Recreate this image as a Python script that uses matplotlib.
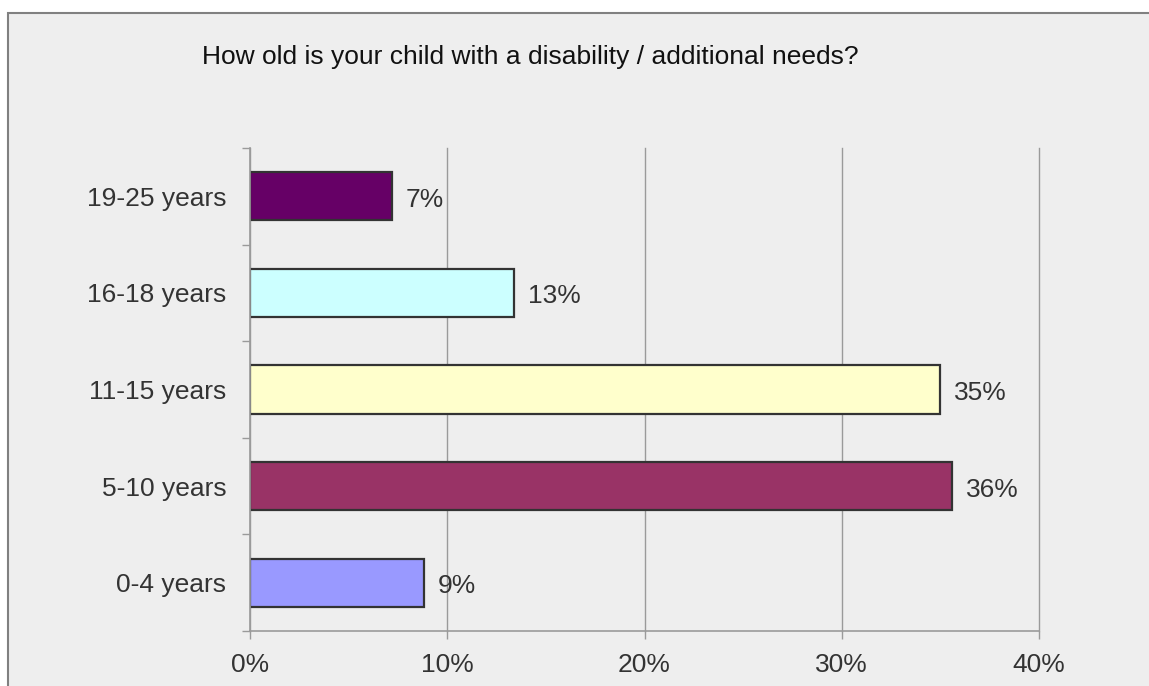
import matplotlib
matplotlib.use("Agg")
import matplotlib.pyplot as plt
from matplotlib.patches import Rectangle
from matplotlib.ticker import FixedLocator, FuncFormatter

# Survey responses: age group of the child (percentage of respondents)
categories = ["0-4 years", "5-10 years", "11-15 years", "16-18 years", "19-25 years"]
shares = [8.8, 35.6, 35.0, 13.4, 7.2]
bar_colors = ["#9999FF", "#993366", "#FFFFCC", "#CCFFFF", "#660066"]
x_ticks = [0, 10, 20, 30, 40]
title = "How old is your child with a disability / additional needs?"

plt.rcParams["font.family"] = ["Liberation Sans", "DejaVu Sans"]
text_color = "#333333"
panel_color = "#EEEEEE"
line_gray = "#9A9A9A"
fs = 19

W, H = 1149, 686
fig = plt.figure(figsize=(W / 100, H / 100), dpi=100, facecolor="white")

# Gray chart panel with a thin border (left and top edges visible)
fig.patches.append(Rectangle((8 / W, -0.2), 1.2, 1.2 - 13 / H, transform=fig.transFigure,
                             facecolor=panel_color, edgecolor="#808080",
                             linewidth=1.5, zorder=-5))

ax = fig.add_axes([250 / W, 55 / H, 789 / W, 483 / H])
ax.set_zorder(2)
ax.set_facecolor(panel_color)

ypos = list(range(len(categories)))
bars = ax.barh(ypos, shares, height=0.5, color=bar_colors,
               edgecolor="#333333", linewidth=1.6, zorder=3)
value_labels = ax.bar_label(bars, labels=[f"{v:.0f}%" for v in shares], padding=10,
                            fontsize=fs, color=text_color)
for lab in value_labels:
    lab.xyann = (10, -2.5)

ax.set_xlim(0, 40)
ax.set_ylim(-0.5, len(categories) - 0.5)

ax.set_xticks(x_ticks)
ax.xaxis.set_major_formatter(FuncFormatter(lambda v, p: f"{v:.0f}%"))
ax.tick_params(axis="x", direction="out", length=6, width=1, color=line_gray,
               labelsize=fs, labelcolor=text_color, pad=10)
ax.grid(axis="x", color=line_gray, linewidth=1, zorder=0)
for gl in ax.get_xgridlines():
    gl.set_clip_on(False)

ax.set_yticks(ypos)
ax.set_yticklabels(categories)
ax.yaxis.set_minor_locator(FixedLocator([i - 0.5 for i in range(len(categories) + 1)]))
ax.tick_params(axis="y", which="major", length=0, labelsize=fs,
               labelcolor=text_color, pad=17)
ax.tick_params(axis="y", which="minor", direction="out", length=6, width=1,
               color=line_gray)

for side in ("top", "right"):
    ax.spines[side].set_visible(False)
for side in ("left", "bottom"):
    ax.spines[side].set_color(line_gray)
    ax.spines[side].set_linewidth(1.2)
    ax.spines[side].set_zorder(4)

fig.text(530 / W, 1 - 57 / H, title, ha="center", va="center",
         fontsize=fs, color="#111111")

fig.savefig("out.png", dpi=100, facecolor="white")
